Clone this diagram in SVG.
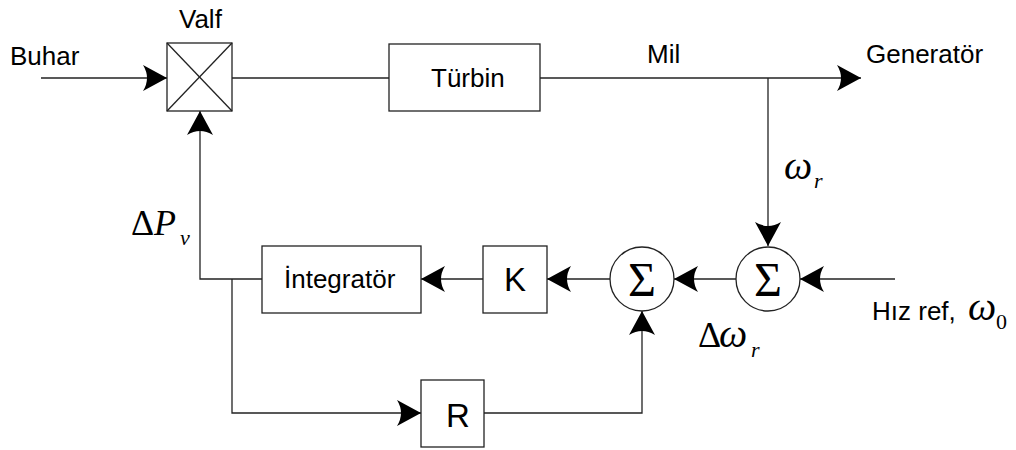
<svg xmlns="http://www.w3.org/2000/svg" width="1016" height="450" viewBox="0 0 1016 450">
<style>
.ln{fill:none;stroke:#222;stroke-width:1.3}
.bx{fill:#fff;stroke:#222;stroke-width:1.3}
.t{font-family:"Liberation Sans",Arial,sans-serif;font-size:26px;fill:#000}
.tb{font-family:"Liberation Sans",Arial,sans-serif;font-size:33px;fill:#000}
.m{font-family:"Liberation Serif","Times New Roman",serif;font-size:36px;fill:#000}
.w{font-style:italic;font-size:40px}
.i{font-style:italic}
.sub{font-size:22px;font-style:italic}
.sg{font-family:"Liberation Serif","Times New Roman",serif;font-size:48px;fill:#000}
</style>
<defs>
<marker id="ah" viewBox="-24 -13 25 26" refX="0" refY="0" markerWidth="25" markerHeight="26" markerUnits="userSpaceOnUse" orient="auto">
<path d="M0,0 L-24,-13 Q-16,0 -24,13 Z" fill="#000"/>
</marker>
</defs>
<g id="connectors">
<line class="ln" x1="41" y1="78" x2="167" y2="78" marker-end="url(#ah)"/>
<line class="ln" x1="232" y1="78" x2="389" y2="78"/>
<line class="ln" x1="540" y1="78" x2="861" y2="78" marker-end="url(#ah)"/>
<line class="ln" x1="768" y1="78" x2="768" y2="246" marker-end="url(#ah)"/>
<line class="ln" x1="895" y1="279" x2="800" y2="279" marker-end="url(#ah)"/>
<line class="ln" x1="736" y1="279" x2="674" y2="279" marker-end="url(#ah)"/>
<line class="ln" x1="610" y1="279" x2="547" y2="279" marker-end="url(#ah)"/>
<line class="ln" x1="483" y1="279" x2="421" y2="279" marker-end="url(#ah)"/>
<polyline class="ln" points="262,279 200,279 200,111" marker-end="url(#ah)"/>
<polyline class="ln" points="232,279 232,413 421,413" marker-end="url(#ah)"/>
<polyline class="ln" points="484,413 642,413 642,311" marker-end="url(#ah)"/>
</g>
<g id="valf">
<rect class="bx" x="167" y="43" width="65" height="68"/>
<line class="ln" x1="167" y1="43" x2="232" y2="111"/>
<line class="ln" x1="232" y1="43" x2="167" y2="111"/>
<text class="t" x="179" y="28">Valf</text>
</g>
<g id="buhar"><text class="t" x="10" y="65">Buhar</text></g>
<g id="turbin">
<rect class="bx" x="389" y="44" width="151" height="67"/>
<text class="t" x="431" y="87">Türbin</text>
</g>
<g id="mil"><text class="t" x="647" y="63">Mil</text></g>
<g id="generator"><text class="t" x="866" y="63">Generatör</text></g>
<g id="omega-r"><text class="m" x="784" y="179"><tspan class="w">ω</tspan><tspan class="sub" x="814" y="188">r</tspan></text></g>
<g id="sum1">
<circle class="bx" cx="768" cy="279" r="32"/>
<text class="sg" x="768" y="296" text-anchor="middle">Σ</text>
</g>
<g id="sum2">
<circle class="bx" cx="642" cy="279" r="32"/>
<text class="sg" x="642" y="296" text-anchor="middle">Σ</text>
</g>
<g id="hizref"><text class="t" x="872" y="320">Hız ref,</text><text class="m" x="968" y="320"><tspan class="w">ω</tspan><tspan x="996" y="329" style="font-size:22px">0</tspan></text></g>
<g id="delta-omega"><text class="m" x="698" y="347">Δ<tspan class="w" x="719">ω</tspan><tspan class="sub" x="751" y="357">r</tspan></text></g>
<g id="k">
<rect class="bx" x="483" y="246" width="64" height="67"/>
<text class="tb" x="515" y="291" text-anchor="middle">K</text>
</g>
<g id="integrator">
<rect class="bx" x="262" y="246" width="159" height="67"/>
<text class="t" x="284" y="288">İntegratör</text>
</g>
<g id="r">
<rect class="bx" x="421" y="380" width="63" height="67"/>
<text class="tb" x="458" y="427" text-anchor="middle">R</text>
</g>
<g id="delta-pv"><text class="m" x="131" y="235">Δ<tspan class="i" x="154">P</tspan><tspan class="sub" x="180" y="245">v</tspan></text></g>
</svg>
